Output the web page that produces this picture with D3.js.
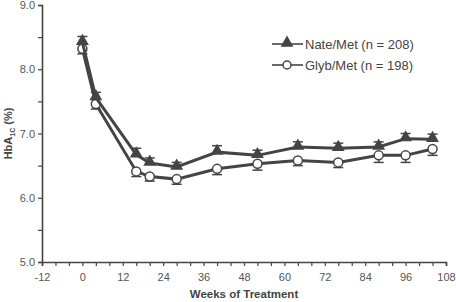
<!DOCTYPE html>
<html lang="en">
<head>
<meta charset="UTF-8"/>
<title>HbA1c over time</title>
<script src="https://d3js.org/d3.v7.min.js"></script>
<style>
  body { margin: 0; background: #fff; }
  text { font-family: "Liberation Sans", Arial, sans-serif; }
</style>
</head>
<body>
<script>
    // data
    var weeks = [0, 4, 16, 20, 28, 40, 52, 64, 76, 88, 96, 104];
    var nateMet = [8.42, 7.56, 6.67, 6.54, 6.48, 6.71, 6.66, 6.79, 6.77, 6.79, 6.92, 6.91];
    var nateErr = [0.09, 0.08, 0.1, 0.08, 0.07, 0.1, 0.08, 0.08, 0.08, 0.08, 0.08, 0.08];
    var glybMet = [8.32, 7.46, 6.41, 6.33, 6.29, 6.45, 6.53, 6.58, 6.55, 6.66, 6.66, 6.76];
    var glybErr = [0.08, 0.08, 0.08, 0.07, 0.08, 0.09, 0.1, 0.08, 0.08, 0.11, 0.11, 0.1];
    var xTicks = [-12, 0, 12, 24, 36, 48, 60, 72, 84, 96, 108];
    var yTicks = [5, 6, 7, 8, 9];

    var w = 456, h = 302;
    var padL = 42, padR = 446, padT = 5, padB = 262;
    var ink = "#444";

    var xScale = d3.scaleLinear().domain([-12, 108]).range([padL, padR]);
    var yScale = d3.scaleLinear().domain([5, 9]).range([padB, padT]);

    var svg = d3.select("body").append("svg")
        .attr("width", w)
        .attr("height", h);

    //x-axis with minor ticks every 4 weeks
    var xAxis = d3.axisBottom(xScale)
        .tickValues(d3.range(-12, 109, 4))
        .tickSize(4)
        .tickFormat(function (d) { return xTicks.indexOf(d) >= 0 ? d : ""; });
    var gx = svg.append("g")
        .attr("transform", "translate(0," + padB + ")")
        .call(xAxis);
    gx.selectAll("text").attr("font-size", "11px").attr("fill", "#555").attr("dy", "1.1em");

    //y-axis with minor ticks every 0.5
    var yAxis = d3.axisLeft(yScale)
        .tickValues(d3.range(5, 9.01, 0.5))
        .tickSize(4)
        .tickFormat(function (d) { return yTicks.indexOf(d) >= 0 ? d.toFixed(1) : ""; });
    var gy = svg.append("g")
        .attr("transform", "translate(" + padL + ",0)")
        .call(yAxis);
    gy.selectAll("text").attr("font-size", "11px").attr("fill", "#555").attr("x", -7);

    svg.selectAll(".domain").attr("stroke", ink).attr("stroke-width", 1.6);
    svg.selectAll(".tick line").attr("stroke", ink).attr("stroke-width", 1.2);

    // axis labels
    svg.append("text")
        .attr("x", (padL + padR) / 2)
        .attr("y", 298)
        .attr("text-anchor", "middle")
        .attr("font-size", "11.5px")
        .attr("font-weight", "bold")
        .attr("fill", ink)
        .text("Weeks of Treatment");

    var yl = svg.append("text")
        .attr("transform", "translate(12," + yScale(7) + ") rotate(-90)")
        .attr("text-anchor", "middle")
        .attr("font-size", "11px")
        .attr("font-weight", "bold")
        .attr("fill", ink);
    yl.append("tspan").text("HbA");
    yl.append("tspan").attr("font-size", "7px").attr("dy", "3").text("1C");
    yl.append("tspan").attr("dy", "-3").text(" (%)");

    function series(vals, errs, dir) {
        var pts = weeks.map(function (wk, i) { return { x: wk, y: vals[i], e: errs[i] }; });
        var g = svg.append("g");
        // error bars (one-sided)
        pts.forEach(function (p) {
            var y0 = yScale(p.y), y1 = yScale(p.y + dir * p.e);
            g.append("line").attr("x1", xScale(p.x)).attr("x2", xScale(p.x))
                .attr("y1", y0).attr("y2", y1).attr("stroke", ink).attr("stroke-width", 1.5);
            g.append("line").attr("x1", xScale(p.x) - 5).attr("x2", xScale(p.x) + 5)
                .attr("y1", y1).attr("y2", y1).attr("stroke", ink).attr("stroke-width", 1.5);
        });
        g.append("path")
            .datum(pts)
            .attr("fill", "none")
            .attr("stroke", ink)
            .attr("stroke-width", 3)
            .attr("d", d3.line().x(function (d) { return xScale(d.x); }).y(function (d) { return yScale(d.y); }));
        return { g: g, pts: pts };
    }

    var tri = d3.symbol().type(d3.symbolTriangle).size(72);

    var sg = series(glybMet, glybErr, -1);
    sg.g.selectAll("circle").data(sg.pts).enter().append("circle")
        .attr("cx", function (d) { return xScale(d.x); })
        .attr("cy", function (d) { return yScale(d.y); })
        .attr("r", 4.5)
        .attr("fill", "#fff")
        .attr("stroke", ink)
        .attr("stroke-width", 1.5);

    var sn = series(nateMet, nateErr, 1);
    sn.g.selectAll(".tri").data(sn.pts).enter().append("path")
        .attr("class", "tri")
        .attr("transform", function (d) { return "translate(" + xScale(d.x) + "," + (yScale(d.y) - 1) + ")"; })
        .attr("d", tri)
        .attr("fill", ink);

    // legend
    var legend = [
        { name: "Nate/Met (n = 208)", mark: "tri" },
        { name: "Glyb/Met (n = 198)", mark: "circle" }
    ];
    legend.forEach(function (d, i) {
        var ly = 44 + i * 21;
        svg.append("line").attr("x1", 272).attr("x2", 303).attr("y1", ly).attr("y2", ly)
            .attr("stroke", ink).attr("stroke-width", 1.6);
        if (d.mark === "tri") {
            svg.append("path").attr("transform", "translate(287," + (ly - 1) + ")")
                .attr("d", tri).attr("fill", ink);
        } else {
            svg.append("circle").attr("cx", 287).attr("cy", ly).attr("r", 4)
                .attr("fill", "#fff").attr("stroke", ink).attr("stroke-width", 1.5);
        }
        svg.append("text").attr("x", 305).attr("y", ly + 4.5)
            .attr("font-size", "13px").attr("fill", ink).text(d.name);
    });
</script>
</body>
</html>
